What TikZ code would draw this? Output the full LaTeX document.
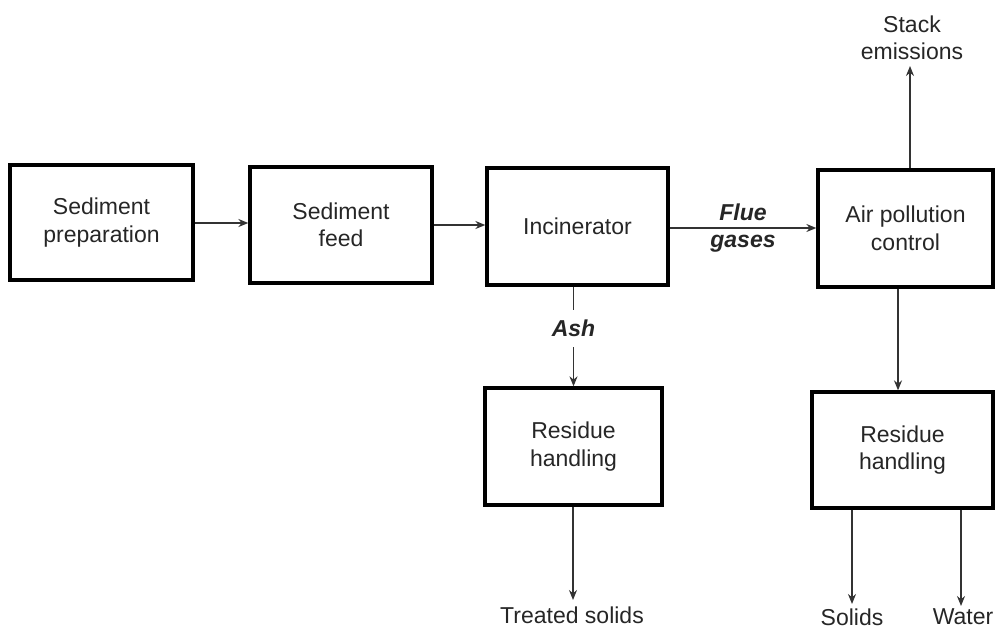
\documentclass[tikz,border=0pt]{standalone}
\usepackage{fontspec}
\setmainfont{Liberation Sans}
\usetikzlibrary{arrows.meta,calc}
\begin{document}
\begin{tikzpicture}[x=1pt,y=-1pt,
  every node/.style={font=\fontsize{23}{27.5}\selectfont, align=center, text=black!85},
  procbox/.style={draw=black, line width=3.3pt, inner sep=0pt},
  arr/.style={draw=black!80, line width=1.3pt, -{Stealth[length=10pt,width=8pt]}},
  lbl/.style={font=\fontsize{23}{27.5}\selectfont\bfseries\itshape}
]
\useasboundingbox (0,0) rectangle (996,629);
\node[procbox, minimum width=183pt, minimum height=115pt] (b1) at (101.5,222.5) {Sediment\\preparation};
\node[procbox, minimum width=182pt, minimum height=116pt] (b2) at (341,225) {Sediment\\feed};
\node[procbox, minimum width=181pt, minimum height=117pt] (b3) at (577.5,226.5) {Incinerator};
\node[procbox, minimum width=175pt, minimum height=117pt] (b4) at (905.5,228.5) {Air pollution\\control};
\node[procbox, minimum width=177pt, minimum height=117pt] (b5) at (573.5,446.5) {Residue\\handling};
\node[procbox, minimum width=181pt, minimum height=116pt] (b6) at (902.5,450) {Residue\\handling};

\node (stack) at (912,38) {Stack\\emissions};
\node (treated) at (572,615) {Treated solids};
\node (solids) at (852,617) {Solids};
\node (water) at (963,617) {Water};

\coordinate (sttip) at (910,66);
\coordinate (tstip) at (573,600);
\coordinate (sotip) at (852,604);
\coordinate (watip) at (961,606);

\draw[arr] (b1.east |- 0,223) -- (b2.west |- 0,223);
\draw[arr] (b2.east |- 0,225) -- (b3.west |- 0,225);
\draw[arr] (b3.east |- 0,228) -- node[lbl] {Flue\\gases} (b4.west |- 0,228);
\draw[arr] (b4.north -| sttip) -- (sttip);
\draw[arr] (b3.south -| b5.north) -- node[lbl, pos=0.42, fill=white, inner xsep=2pt, inner ysep=10pt] {Ash} (b5.north);
\draw[arr] (b4.south -| 898,0) -- (b6.north -| 898,0);
\draw[arr] (b5.south -| tstip) -- (tstip);
\draw[arr] (b6.south -| sotip) -- (sotip);
\draw[arr] (b6.south -| watip) -- (watip);
\end{tikzpicture}
\end{document}
